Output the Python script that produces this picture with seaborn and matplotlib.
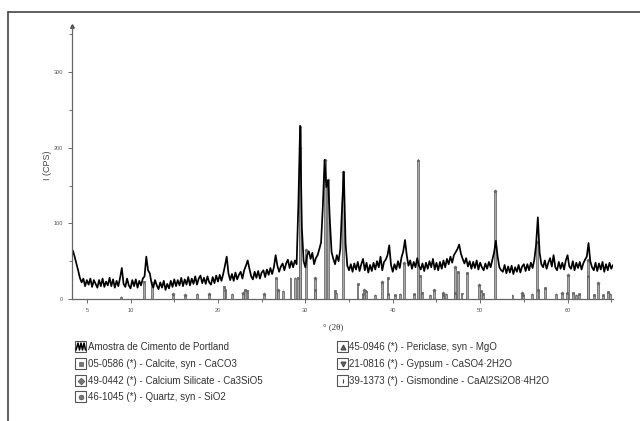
import numpy as np
import matplotlib
matplotlib.use("Agg")
import matplotlib.pyplot as plt
import seaborn as sns
from matplotlib.patches import Rectangle

# %%
# measured scan: start angle, step (deg 2theta) and counts
scan_start = 3.4
scan_step = 0.2
counts = [
    64, 56, 47, 38, 28,   22, 27, 17, 25, 19,   27, 16, 25, 20, 15,
    25, 17, 27, 16, 23,   18, 28, 17, 26, 15,   24, 17, 28, 41, 20,
    16, 27, 18, 14, 25,   17, 26, 15, 24, 18,   27, 30, 56, 38, 34,
    21, 15, 25, 18, 13,   22, 15, 24, 12, 20,   14, 24, 16, 26, 17,
    25, 18, 28, 17, 26,   19, 29, 18, 27, 20,   30, 19, 27, 31, 21,
    28, 20, 30, 22, 19,   29, 21, 31, 23, 32,   24, 33, 44, 56, 34,
    25, 33, 24, 35, 26,   32, 36, 27, 38, 44,   51, 40, 30, 26, 36,
    28, 37, 27, 35, 38,   29, 39, 32, 41, 33,   42, 58, 44, 36, 43,
    47, 38, 47, 52, 41,   50, 42, 51, 46, 125,  229, 95, 50, 42, 58,
    63, 53, 61, 46, 54,   58, 66, 75, 122, 184, 148, 157, 105, 62, 53,
    46, 58, 50, 66, 122,  168, 74, 44, 38, 46,  36, 47, 39, 49, 37,
    46, 53, 38, 48, 35,   45, 37, 48, 39, 50,   42, 56, 38, 49, 52,
    58, 71, 45, 36, 46,   39, 50, 41, 55, 63,   78, 58, 44, 51, 40,
    49, 42, 54, 44, 39,   47, 37, 48, 40, 50,   42, 53, 39, 48, 38,
    49, 40, 51, 42, 53,   46, 56, 48, 58, 62,   66, 72, 60, 53, 47,
    54, 43, 50, 40, 49,   41, 51, 39, 48, 42,   38, 47, 40, 49, 42,
    52, 62, 77, 56, 42,   38, 36, 45, 34, 43,   35, 44, 33, 42, 36,
    45, 35, 43, 46, 37,   46, 38, 48, 41, 52,   72, 108, 62, 46, 42,
    51, 40, 48, 54, 43,   58, 42, 38, 49, 40,   48, 39, 51, 58, 43,
    40, 50, 38, 48, 41,   49, 39, 47, 52, 56,   74, 50, 42, 38, 48,
    37, 47, 39, 49, 36,   46, 38, 48, 40, 45,
]
two_theta = scan_start + scan_step * np.arange(len(counts))

# reference patterns (stick positions, drawn heights)
calcite_pos = [23.06, 29.41, 35.97, 39.40, 43.15, 47.12, 47.49, 48.51, 56.57, 57.40, 60.67, 61.36, 63.06, 64.67]
calcite_int = [12, 228, 20, 28, 30, 8, 36, 34, 12, 14, 8, 6, 5, 9]
c3s_pos = [14.9, 16.2, 19.0, 22.9, 25.3, 26.9, 29.4, 30.1, 31.1, 32.2, 32.6, 34.35, 36.7, 38.8,
           41.3, 44.7, 45.8, 47.1, 49.9, 51.7, 54.8, 56.5, 59.4, 60.1, 62.3, 63.5]
c3s_int = [6, 5, 7, 8, 6, 12, 200, 65, 28, 184, 157, 168, 12, 22,
           47, 12, 8, 42, 18, 143, 8, 75, 8, 32, 52, 21]
quartz_pos = [20.86, 26.64, 36.54, 39.46, 40.29, 42.45, 45.79, 50.14, 54.87, 59.96, 64.04]
quartz_int = [12, 28, 6, 6, 5, 6, 5, 10, 5, 8, 5]
periclase_pos = [36.94, 42.92, 62.30]
periclase_int = [10, 184, 30]
gypsum_pos = [11.59, 20.72, 23.38, 29.11, 31.10, 33.35, 43.35, 47.87, 50.33]
gypsum_int = [22, 16, 10, 28, 12, 10, 8, 6, 6]
gismondine_pos = [8.9, 12.5, 17.6, 21.6, 27.4, 28.3, 28.8, 33.5, 38.0, 40.8, 44.3, 46.1, 53.7, 55.9, 58.7, 61.0, 64.9]
gismondine_int = [3, 22, 6, 6, 10, 28, 28, 8, 5, 6, 5, 6, 5, 6, 7, 5, 6]

legend_left = ["Amostra de Cimento de Portland",
               "05-0586 (*) - Calcite, syn - CaCO3",
               "49-0442 (*) - Calcium Silicate - Ca3SiO5",
               "46-1045 (*) - Quartz, syn - SiO2"]
legend_right = ["45-0946 (*) - Periclase, syn - MgO",
                "21-0816 (*) - Gypsum - CaSO4\u00b72H2O",
                "39-1373 (*) - Gismondine - CaAl2Si2O8\u00b74H2O"]

# %%
sns.set_style("ticks")
plt.rcParams["font.family"] = ["Liberation Sans", "DejaVu Sans"]

fig = plt.figure(figsize=(6.4, 4.21), dpi=100)
ax = fig.add_axes([72 / 640, 1 - 299 / 421, 541 / 640, 273 / 421])

phases = [(calcite_pos, calcite_int, "s"), (c3s_pos, c3s_int, "D"),
          (quartz_pos, quartz_int, "o"), (periclase_pos, periclase_int, "^"),
          (gypsum_pos, gypsum_int, "v"), (gismondine_pos, gismondine_int, "|")]
for pos, inten, mk in phases:
    ax.bar(pos, inten, width=0.22, color="#a8a8a8", edgecolor="#5a5a5a", linewidth=0.5, zorder=1)
    ax.scatter(pos, inten, marker=mk, s=2.5, color="#666666", linewidths=0.5, zorder=1.5)

sns.lineplot(x=two_theta, y=counts, ax=ax, color="black", linewidth=1.25, zorder=2)

ax.set_xlim(3.3, 65.2)
ax.set_ylim(0, 361)
ax.set_xticks([5, 10, 20, 30, 40, 50, 60])
ax.set_xticks([15, 25, 35, 45, 55, 65], minor=True)
ax.set_yticks([0, 100, 200, 300])
ax.set_yticks([50, 150, 250, 350], minor=True)
ax.tick_params(axis="both", which="both", labelsize=4, colors="#555555", length=3, width=0.6)
ax.tick_params(axis="both", which="minor", length=2.5)
sns.despine(ax=ax)
for s in ["left", "bottom"]:
    ax.spines[s].set_color("#666666")
    ax.spines[s].set_linewidth(0.9)
ax.plot([3.3], [361], marker="^", ms=2.5, color="#444444", clip_on=False)
ax.set_xlabel("")
ax.set_ylabel("")

fig.text(48 / 640, 1 - 165 / 421, "I (CPS)", rotation=90, ha="center", va="center",
         fontsize=6.5, color="#444444")
fig.text(333 / 640, 1 - 327 / 421, "\u00b0 (2\u03b8)", ha="center", va="center",
         fontsize=6.5, color="#333333", family=["Liberation Serif", "DejaVu Serif"])

# overlay in pixel coordinates for frame and legend
ov = fig.add_axes([0, 0, 1, 1])
ov.set_xlim(0, 640)
ov.set_ylim(421, 0)
ov.axis("off")
ov.plot([8, 640], [12, 12], color="#444444", lw=1.2)
ov.plot([8, 8], [12, 421], color="#444444", lw=1.2)

rows = [347, 364, 381, 397]
icons_left = ["wave", "s", "D", "o"]
icons_right = ["^", "v", "|"]
for y, txt, ic in zip(rows, legend_left, icons_left):
    ov.add_patch(Rectangle((75, y - 6), 11, 11, fill=False, edgecolor="#555555", lw=0.8))
    if ic == "wave":
        ov.plot([76, 78, 79.5, 81, 82.5, 84, 85.5], [y + 3, y - 4, y + 3, y - 4, y + 3, y - 4, y + 3],
                color="black", lw=1.1)
    else:
        ov.plot([80.5], [y - 0.5], marker=ic, ms=3.5, color="#777777", mec="#444444", mew=0.4)
    ov.text(88, y, txt, ha="left", va="center", fontsize=7, color="#333333")
for y, txt, ic in zip(rows, legend_right, icons_right):
    ov.add_patch(Rectangle((337, y - 6), 11, 11, fill=False, edgecolor="#555555", lw=0.8))
    ov.plot([342.5], [y - 0.5], marker=ic, ms=3.5, color="#666666", mec="#444444", mew=0.8)
    ov.text(349, y, txt, ha="left", va="center", fontsize=7, color="#333333")

fig.savefig("out.png", dpi=100)
